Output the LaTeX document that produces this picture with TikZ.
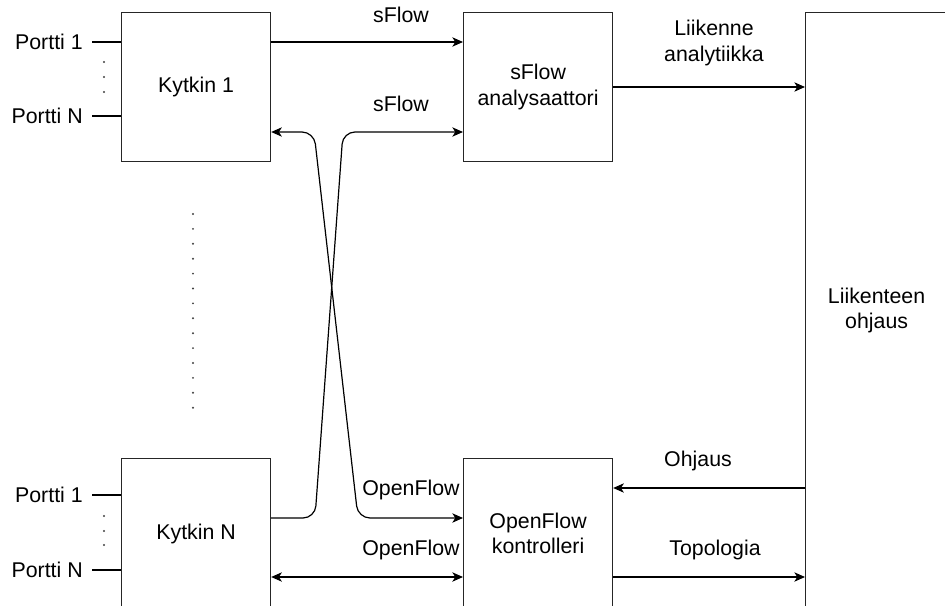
\documentclass[tikz,border=0pt]{standalone}
\usepackage{fontspec}
\setmainfont{Liberation Sans}
\usetikzlibrary{arrows.meta,calc}
\begin{document}
\begin{tikzpicture}[x=0.75pt,y=-0.75pt,
  box/.style={draw=black!85,line width=0.9pt,minimum width=149*0.75pt,inner sep=0pt,align=center,
    font=\fontsize{16}{19}\selectfont,anchor=north west},
  lbl/.style={font=\fontsize{16}{19}\selectfont,align=center,inner sep=0pt},
  conn/.style={line width=0.9pt,draw=black},
  arr/.style={conn,-{Stealth[length=8pt,width=7pt,inset=2.2pt]}},
  barr/.style={conn,{Stealth[length=8pt,width=7pt,inset=2.2pt]}-{Stealth[length=8pt,width=7pt,inset=2.2pt]}},
  dot/.style={circle,fill=black!75,inner sep=0pt,minimum size=1.6pt}
]
\useasboundingbox (0,0) rectangle (945,606);
\clip (0,0) rectangle (945,606);

% boxes
\node[box,minimum height=149*0.75pt] (k1) at (121,12) {Kytkin 1};
\node[box,minimum height=149*0.75pt] (sf) at (463,12) {sFlow\\analysaattori};
\node[box,minimum height=150*0.75pt] (kN) at (121,458) {Kytkin N};
\node[box,minimum height=150*0.75pt] (of) at (463,458) {OpenFlow\\kontrolleri};
\node[box,minimum width=142*0.75pt,minimum height=596*0.75pt] (lo) at (805,12) {Liikenteen\\ohjaus};

% ports
\node[lbl,anchor=east] (p11) at (83,42) {Portti 1};
\node[lbl,anchor=east] (p1N) at (83,116) {Portti N};
\node[lbl,anchor=east] (pN1) at (83,495) {Portti 1};
\node[lbl,anchor=east] (pNN) at (83,570) {Portti N};
\draw[conn] (92,42) -- (k1.west |- p11);
\draw[conn] (92,116) -- (k1.west |- p1N);
\draw[conn] (92,495) -- (kN.west |- pN1);
\draw[conn] (92,570) -- (kN.west |- pNN);
\foreach \y in {62,77,92} \node[dot] at (104,\y) {};
\foreach \y in {516,531,545} \node[dot] at (104,\y) {};
\foreach \i in {0,...,13} \node[dot] at (193,214+\i*14.9) {};

% connectors
\draw[arr] (k1.east |- 0,42) -- (sf.west |- 0,42);
\node[lbl] (l1) at (401,15) {sFlow};
\draw[arr] (sf.east |- 0,87) -- (lo.west |- 0,87);
\node[lbl] (l2) at (714,43) {Liikenne\\analytiikka};

\draw[arr,rounded corners=9pt] (kN.east |- 0,518) -- (315,518) -- (343,132) -- (sf.west |- 0,132);
\node[lbl] (l3) at (401,104) {sFlow};
\draw[barr,rounded corners=9pt] (k1.east |- 0,132) -- (314,132) -- (358,518) -- (of.west |- 0,518);
\node[lbl] (l4) at (411,490) {OpenFlow};

\draw[barr] (kN.east |- 0,577) -- (of.west |- 0,577);
\node[lbl] (l5) at (411,550) {OpenFlow};

\draw[arr] (lo.west |- 0,488) -- (of.east |- 0,488);
\node[lbl] (l6) at (698,461) {Ohjaus};
\draw[arr] (of.east |- 0,577) -- (lo.west |- 0,577);
\node[lbl] (l7) at (715,550) {Topologia};
\end{tikzpicture}
\end{document}
